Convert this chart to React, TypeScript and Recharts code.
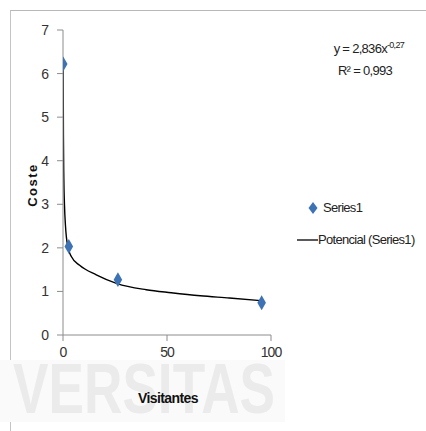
import React from "react";
import { ComposedChart, Scatter, Line, XAxis, YAxis } from "recharts";

const visitantes = [0.1, 2.8, 26.4, 95.5];
const coste = [6.22, 2.03, 1.27, 0.74];

const trendX = [0.08, 0.2, 0.4, 0.7, 1.2, 2.2, 4, 8, 16, 26, 40, 52, 66, 80, 95];
const trendY = [6.1, 4.6, 3.6, 3.0, 2.5, 2.05, 1.8, 1.6, 1.38, 1.18, 1.04, 0.97, 0.9, 0.85, 0.79];

const xTicks = [0, 50, 100];
const yTicks = [0, 1, 2, 3, 4, 5, 6, 7];

const points = visitantes.map((x, i) => ({ x, y: coste[i] }));
const trend = trendX.map((x, i) => ({ x, y: trendY[i] }));

const sans = "'Liberation Sans', Arial, sans-serif";
const tickStyle = { fill: "#333", fontSize: 14, fontFamily: sans, letterSpacing: -1 };

function LegendBox() {
  return (
    <div
      style={{
        position: "absolute",
        left: 297,
        top: 200,
        fontFamily: sans,
        fontSize: 13,
        letterSpacing: -0.7,
        color: "#222",
        lineHeight: "16px",
        whiteSpace: "nowrap",
      }}
    >
      <div style={{ display: "flex", alignItems: "center", marginBottom: 16 }}>
        <svg width={24} height={14} style={{ marginRight: 2 }}>
          <path d="M16 1 L20.5 7 L16 13 L11.5 7 Z" fill="#3d72b4" />
        </svg>
        <span>Series1</span>
      </div>
      <div style={{ display: "flex", alignItems: "center" }}>
        <svg width={21} height={14}>
          <line x1={0} y1={7} x2={21} y2={7} stroke="#000" strokeWidth={1.3} />
        </svg>
        <span>Potencial (Series1)</span>
      </div>
    </div>
  );
}

export default function App() {
  return (
    <div style={{ position: "absolute", left: 0, top: 0, width: 426, height: 431, background: "#fff", overflow: "hidden" }}>
      <div
        style={{
          position: "absolute",
          left: 10,
          top: 10,
          width: 500,
          height: 500,
          borderTop: "1.5px solid #b8b8b8",
          borderLeft: "1.5px solid #c4c4c4",
        }}
      />
      <div style={{ position: "absolute", left: 0, top: 360, width: 285, height: 62, background: "#fafafa" }} />
      <div
        style={{
          position: "absolute",
          left: 13,
          top: 364,
          height: 50,
          color: "#ebebeb",
          fontFamily: sans,
          fontWeight: 700,
          fontSize: 70,
          lineHeight: "50px",
          whiteSpace: "nowrap",
          transform: "scaleX(0.76)",
          transformOrigin: "0 0",
        }}
      >
        VERSITAS
      </div>
      <ComposedChart
        width={426}
        height={431}
        margin={{ top: 30, right: 155, left: 23, bottom: 66 }}
        style={{ position: "absolute", left: 0, top: 0 }}
      >
        <XAxis
          type="number"
          dataKey="x"
          domain={[0, 100]}
          ticks={xTicks}
          tick={tickStyle}
          stroke="#8c8c8c"
          tickSize={6}
          tickMargin={6}
          height={30}
          allowDataOverflow
        />
        <YAxis
          type="number"
          dataKey="y"
          domain={[0, 7]}
          ticks={yTicks}
          tick={tickStyle}
          stroke="#8c8c8c"
          tickSize={6}
          tickMargin={9}
          width={40}
        />
        <Line
          data={trend}
          dataKey="y"
          type="monotone"
          stroke="#000"
          strokeWidth={1.4}
          dot={false}
          activeDot={false}
          isAnimationActive={false}
        />
        <Scatter
          data={points}
          dataKey="y"
          shape="diamond"
          fill="#3d72b4"
          isAnimationActive={false}
        />
      </ComposedChart>
      <LegendBox />
      <div
        style={{
          position: "absolute",
          left: 32,
          top: 185,
          transform: "translate(-50%, -50%) rotate(-90deg)",
          fontFamily: sans,
          fontWeight: 700,
          fontSize: 13,
          letterSpacing: 1.5,
          color: "#111",
        }}
      >
        Coste
      </div>
      <div
        style={{
          position: "absolute",
          left: 168,
          top: 398,
          transform: "translate(-50%, -50%)",
          fontFamily: sans,
          fontWeight: 700,
          fontSize: 14,
          letterSpacing: -0.6,
          color: "#111",
        }}
      >
        Visitantes
      </div>
      <div
        style={{
          position: "absolute",
          right: 22,
          top: 38,
          textAlign: "right",
          fontFamily: sans,
          fontSize: 13,
          letterSpacing: -0.7,
          color: "#222",
          lineHeight: "22px",
        }}
      >
        <div>
          y = 2,836x<sup style={{ fontSize: 9, verticalAlign: 5, lineHeight: 0 }}>-0,27</sup>
        </div>
        <div style={{ paddingRight: 12 }}>R² = 0,993</div>
      </div>
    </div>
  );
}
